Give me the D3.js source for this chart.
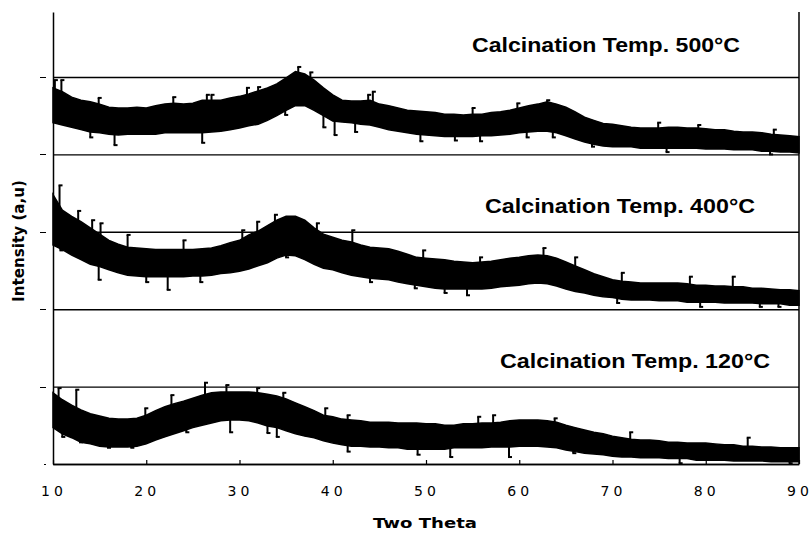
<!DOCTYPE html>
<html><head><meta charset="utf-8">
<script src="https://cdn.jsdelivr.net/npm/d3@7"></script>
<style>body{margin:0;background:#fff} svg{display:block}</style>
</head><body><svg id="c" width="810" height="534"></svg>
<script>
// ---- data (intensity in arbitrary units, one panel = 200 a.u.) ----
const theta = d3.range(10, 91, 1); // 2θ sampling, degrees
const seriesLabels = ["Calcination Temp. 120°C", "Calcination Temp. 400°C", "Calcination Temp. 500°C"];
const offsets = [0, 200, 400];

// noise band: upper / lower envelope of the dense trace at each degree
const hi120 = [92,83,76,70,65,62,59,58,58,59,63,69,74,78,81,85,89,92,93,93,93,93,92,90,88,84,79,74,69,63,61,58,57,56,54,54,54,53,53,53,52,52,50,50,52,52,53,53,54,56,57,57,57,56,54,50,47,44,41,39,36,34,32,31,31,30,28,28,27,27,27,26,25,25,23,23,22,22,21,21,21];
const lo120 = [47,39,34,28,26,23,22,22,22,23,26,31,35,39,43,47,50,53,56,57,57,56,53,49,47,43,39,36,34,30,27,25,23,23,22,22,21,21,19,19,19,19,19,21,21,21,21,22,22,22,23,23,23,22,21,18,16,14,13,12,10,9,9,8,8,8,7,7,7,5,5,5,5,4,4,4,4,3,3,3,3];

const hi400 = [148,128,120,113,105,97,89,84,80,79,78,77,77,77,77,77,78,79,82,86,89,96,101,108,115,120,120,115,105,97,93,89,87,83,80,79,78,75,71,67,66,65,64,62,61,60,61,62,64,66,67,69,70,69,66,61,56,51,46,42,38,36,35,34,34,34,34,34,33,31,31,30,30,29,29,27,27,26,25,25,24];
const lo400 = [83,77,70,64,58,55,51,47,44,43,42,42,42,42,42,43,43,44,46,47,49,52,56,60,66,70,69,64,58,53,51,47,44,42,40,39,38,35,33,31,29,27,26,26,26,26,26,27,29,30,31,33,34,33,30,26,23,21,18,16,15,13,12,12,12,11,11,11,9,9,9,9,8,8,8,8,7,7,7,5,5];

const hi500 = [86,81,74,70,68,65,61,60,60,61,60,63,65,66,65,66,70,70,70,73,75,78,82,86,91,99,107,104,96,86,77,70,69,69,70,65,63,60,57,56,55,54,52,52,51,52,52,54,55,57,60,63,65,68,65,61,55,48,44,40,39,37,35,34,34,34,35,35,34,34,33,32,32,30,29,29,28,26,25,24,23];
const lo500 = [41,38,35,32,29,28,26,25,26,26,26,26,28,28,28,28,28,29,30,32,34,37,39,44,50,57,63,63,57,50,43,42,41,39,38,35,32,30,28,26,25,24,23,23,23,23,24,24,25,26,28,29,30,30,28,24,20,16,13,11,10,10,10,8,8,8,8,8,8,8,7,7,7,6,6,6,4,4,3,3,2];

// isolated noise spikes [2θ, intensity]
const spikes120 = [[10.6,98],[12.5,96],[11.0,35],[12.9,28],[15.9,21],[18.4,21],[19.9,72],[22.7,89],[26.3,105],[28.6,102],[24.3,41],[29.0,41],[31.9,98],[33.0,40],[34.7,92],[34.0,35],[39.2,72],[41.6,63],[41.6,16],[49.1,12],[52.6,9],[55.6,61],[57.2,63],[58.9,9],[63.8,59],[65.8,14],[71.9,41],[84.5,34],[77.2,1],[89.0,1]];
const spikes400 = [[10.7,160],[12.7,127],[10.8,76],[14.2,115],[14.9,38],[15.1,111],[18.0,96],[22.3,25],[24.0,89],[20.0,35],[25.8,35],[30.3,102],[31.9,113],[33.8,122],[35.0,67],[38.3,111],[42.1,102],[44.0,35],[48.8,27],[49.7,76],[54.4,18],[52.0,21],[55.8,67],[62.6,79],[66.0,67],[70.5,8],[71.0,47],[79.4,3],[78.3,42],[82.9,42],[87.8,3],[85.8,3]];
const spikes500 = [[10.2,96],[10.9,96],[16.6,12],[14.0,22],[14.9,73],[22.9,74],[26.5,77],[26.0,15],[27.0,77],[30.8,86],[32.0,87],[36.3,113],[37.6,106],[34.9,51],[40.2,25],[44.3,81],[43.8,77],[39.0,35],[42.4,29],[60.8,22],[59.8,66],[49.4,17],[53.1,18],[55.8,17],[55.0,60],[63.0,70],[67.8,10],[63.6,22],[74.9,41],[79.2,38],[75.8,3],[86.9,0],[87.3,32]];

const xTicks = [10,20,30,40,50,60,70,80,90];
const yTicks = [0,100,200,300,400,500];

// ---- drawing ----
const svg = d3.select("#c");
const x = d3.scaleLinear().domain([10, 90]).range([53, 799]);
const y = d3.scaleLinear().domain([0, 584]).range([464, 12]);

const his = [hi120, hi400, hi500], los = [lo120, lo400, lo500], spk = [spikes120, spikes400, spikes500];

// traces (noise band + spikes)
const area = d3.area().x(d => x(d.t)).y0(d => y(d.lo)).y1(d => y(d.hi));
his.forEach((hi, i) => {
  const pts = theta.map((t, k) => ({t, hi: hi[k] + offsets[i], lo: los[i][k] + offsets[i]}));
  const g = svg.append("g");
  g.append("path").attr("d", area(pts))
    .attr("fill", "#000").attr("stroke", "#000").attr("stroke-width", 1.5).attr("stroke-linejoin", "miter");
  const midAt = t => {
    const k = Math.min(theta.length - 2, Math.floor(t - 10)), f = t - theta[k];
    const m0 = (hi[k] + los[i][k]) / 2, m1 = (hi[k + 1] + los[i][k + 1]) / 2;
    return m0 + (m1 - m0) * f + offsets[i];
  };
  g.selectAll("line.sp").data(spk[i]).join("line").attr("class", "sp")
    .attr("x1", d => x(d[0])).attr("x2", d => x(d[0]))
    .attr("y1", d => y(midAt(d[0]))).attr("y2", d => y(d[1] + offsets[i]))
    .attr("stroke", "#000").attr("stroke-width", 2);
  g.selectAll("line.cap").data(spk[i]).join("line").attr("class", "cap")
    .attr("x1", d => x(d[0]) - 1).attr("x2", d => x(d[0]) + 3)
    .attr("y1", d => y(d[1] + offsets[i])).attr("y2", d => y(d[1] + offsets[i]))
    .attr("stroke", "#000").attr("stroke-width", 2);
});

// y axis with horizontal rules
const yAxis = d3.axisLeft(y).tickValues(yTicks).tickSizeInner(-(x(90) - x(10))).tickSizeOuter(0).tickFormat("");
const gy = svg.append("g").attr("transform", `translate(${x(10)},0)`).call(yAxis);
gy.selectAll("line").attr("stroke", "#000").attr("stroke-width", 1.4);
gy.select(".domain").attr("stroke", "#000").attr("stroke-width", 1.5);
// detached tick dashes left of axis
svg.append("g").selectAll("line").data(yTicks).join("line")
  .attr("x1", d => d === 0 ? 44 : 40).attr("x2", 46)
  .attr("y1", d => Math.round(y(d)) + 0.5).attr("y2", d => Math.round(y(d)) + 0.5)
  .attr("stroke", "#000").attr("stroke-width", 1);

// right border
svg.append("line").attr("x1", x(90)).attr("x2", x(90)).attr("y1", y(584)).attr("y2", y(0))
  .attr("stroke", "#000").attr("stroke-width", 1.5);

// x axis
const xAxis = d3.axisBottom(x).tickValues(xTicks).tickSizeInner(-4).tickSizeOuter(0).tickPadding(22);
const gx = svg.append("g").attr("transform", `translate(0,${y(0)})`).call(xAxis);
gx.select(".domain").attr("stroke", "#000").attr("stroke-width", 1.5);
gx.selectAll(".tick line").attr("stroke", "#000").attr("stroke-width", 1.2);
gx.selectAll(".tick text")
  .attr("font-family", "'DejaVu Sans', sans-serif").attr("font-size", 14).attr("fill", "#000")
  .attr("dx", -1.5).attr("textLength", 22).attr("lengthAdjust", "spacing");

// series labels
const labelPos = [{x: 500, y: 368, w: 270}, {x: 485, y: 213, w: 270}, {x: 472, y: 52, w: 268}];
seriesLabels.forEach((s, i) => {
  svg.append("text").attr("x", labelPos[i].x).attr("y", labelPos[i].y)
    .attr("font-family", "'Liberation Sans', Arial, sans-serif").attr("font-weight", "bold")
    .attr("font-size", 20).attr("textLength", labelPos[i].w).attr("lengthAdjust", "spacingAndGlyphs")
    .text(s);
});

// axis titles
svg.append("text").attr("x", 425).attr("y", 528).attr("text-anchor", "middle")
  .attr("font-family", "'DejaVu Sans', sans-serif").attr("font-weight", "bold").attr("font-size", 14)
  .attr("textLength", 104).attr("lengthAdjust", "spacingAndGlyphs").text("Two Theta");
svg.append("text").attr("transform", "translate(24,241) rotate(-90)").attr("text-anchor", "middle")
  .attr("font-family", "'DejaVu Sans', sans-serif").attr("font-weight", "bold").attr("font-size", 15)
  .attr("textLength", 122).attr("lengthAdjust", "spacingAndGlyphs").text("Intensity (a,u)");
</script></body></html>
